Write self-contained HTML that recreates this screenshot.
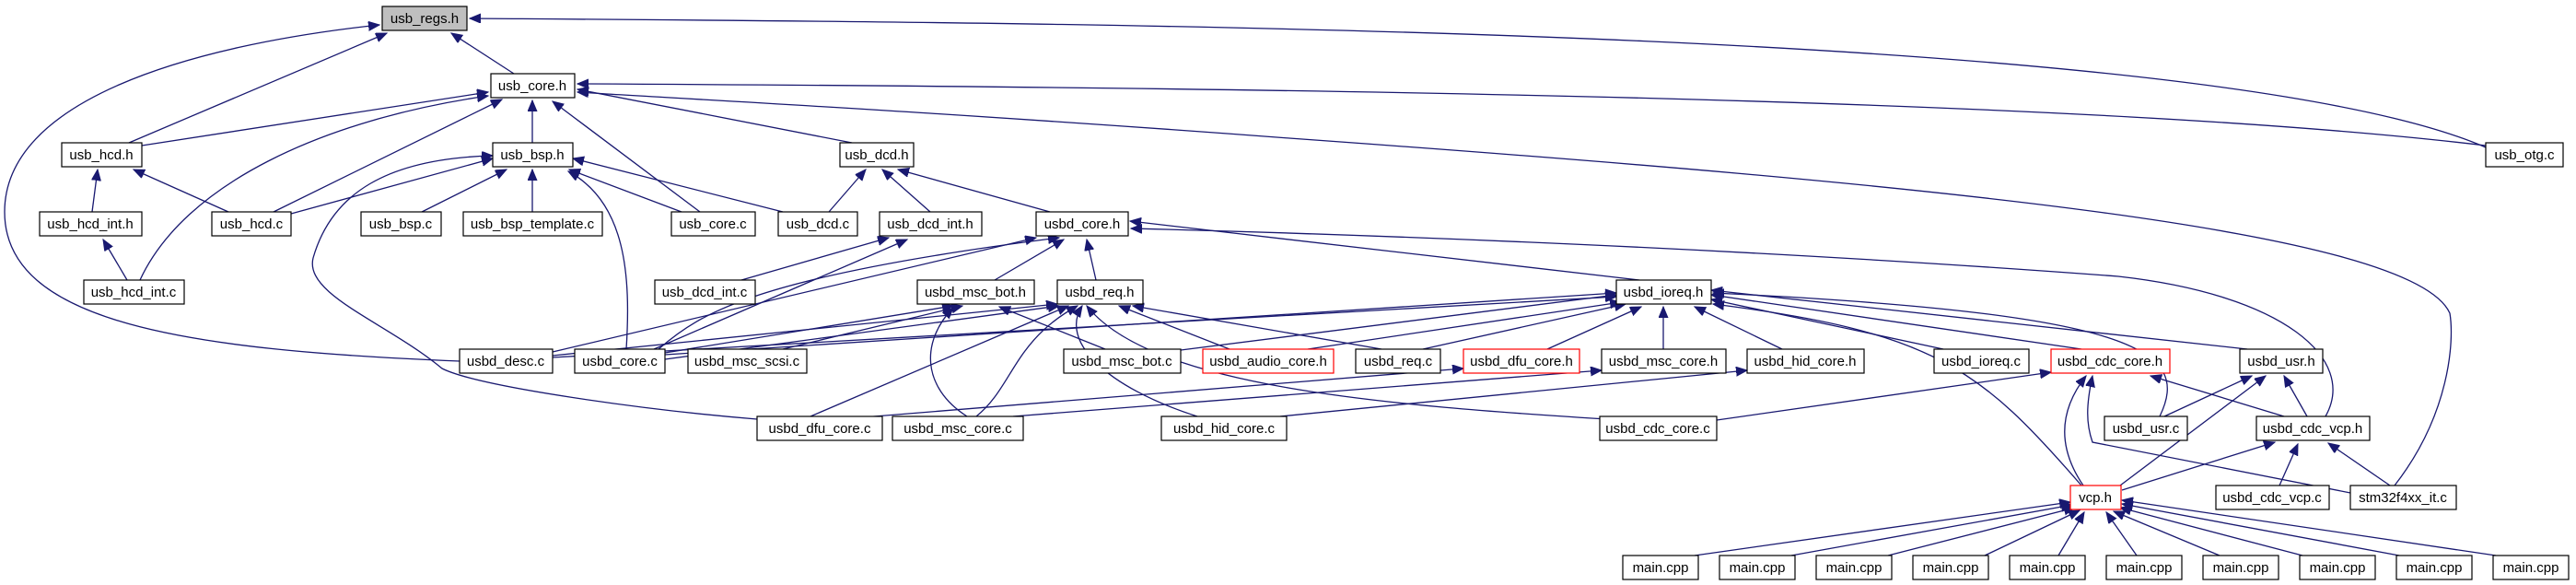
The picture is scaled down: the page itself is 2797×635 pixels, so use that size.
<!DOCTYPE html>
<html><head><meta charset="utf-8"><style>
html,body{margin:0;padding:0;background:#fff;}
svg{display:block}
text{font-family:"Liberation Sans",sans-serif;font-size:15px;fill:#000}
.e{fill:none;stroke:#191970;stroke-width:1.3;marker-end:url(#a)}
.n{fill:#fff;stroke:#000;stroke-width:1.2}
.r{fill:#fff;stroke:#f00;stroke-width:1.2}
</style></head><body>
<svg width="2797" height="635" viewBox="0 0 2797 635" xmlns="http://www.w3.org/2000/svg">
<defs><marker id="a" markerUnits="userSpaceOnUse" markerWidth="14" markerHeight="12" refX="12" refY="5" orient="auto"><path d="M0,0 L12,5 L0,10 z" fill="#191970" stroke="#191970"/></marker></defs>
<g>
<path class="e" d="M558,80 L490,36"/>
<path class="e" d="M140,155 L420,36"/>
<path class="e" d="M499,392 C200,380 5,350 5,230 C5,110 200,50 412,27"/>
<path class="e" d="M2699,160 C2400,30 1200,25 510,20"/>
<path class="e" d="M154,158 L530,100"/>
<path class="e" d="M297,230 L545,108"/>
<path class="e" d="M152,304 C200,200 350,130 530,104"/>
<path class="e" d="M578,155 L578,109"/>
<path class="e" d="M760,230 L600,110"/>
<path class="e" d="M925,155 L627,97"/>
<path class="e" d="M2699,158 C2300,110 1500,95 627,91"/>
<path class="e" d="M2600,527 C2660,450 2665,370 2660,340 C2620,250 2100,200 1400,150 C1000,120 700,105 627,100"/>
<path class="e" d="M100,230 L106,184"/>
<path class="e" d="M248,230 L145,184"/>
<path class="e" d="M138,304 L112,260"/>
<path class="e" d="M316,232 L535,172"/>
<path class="e" d="M458,230 L550,184"/>
<path class="e" d="M578,230 L578,184"/>
<path class="e" d="M740,230 L618,184"/>
<path class="e" d="M850,230 L622,172"/>
<path class="e" d="M822,455 C700,445 520,420 480,400 C420,350 330,320 340,280 C360,210 420,172 535,169"/>
<path class="e" d="M680,379 C685,300 680,220 617,186"/>
<path class="e" d="M900,230 L940,184"/>
<path class="e" d="M1010,230 L958,184"/>
<path class="e" d="M1140,230 L975,184"/>
<path class="e" d="M805,304 L965,258"/>
<path class="e" d="M710,379 L985,260"/>
<path class="e" d="M600,382 L1125,258"/>
<path class="e" d="M715,379 C760,340 820,300 1150,258"/>
<path class="e" d="M1080,304 L1155,260"/>
<path class="e" d="M1190,304 L1180,260"/>
<path class="e" d="M1780,304 L1227,240"/>
<path class="e" d="M2525,452 C2560,390 2480,320 2300,300 C1900,270 1500,255 1228,248"/>
<path class="e" d="M722,383 L1035,332"/>
<path class="e" d="M850,379 L1045,332"/>
<path class="e" d="M1200,379 L1085,333"/>
<path class="e" d="M1050,452 C1000,420 1000,370 1035,334"/>
<path class="e" d="M600,386 L1148,330"/>
<path class="e" d="M722,390 L1150,332"/>
<path class="e" d="M1500,379 L1230,332"/>
<path class="e" d="M1335,379 L1215,332"/>
<path class="e" d="M880,452 L1160,332"/>
<path class="e" d="M1060,452 C1100,420 1100,370 1170,332"/>
<path class="e" d="M1300,452 C1200,420 1150,370 1175,332"/>
<path class="e" d="M1760,456 C1500,440 1250,420 1180,332"/>
<path class="e" d="M600,388 L1755,322"/>
<path class="e" d="M722,385 L1755,318"/>
<path class="e" d="M1282,380 L1755,320"/>
<path class="e" d="M1420,379 L1760,328"/>
<path class="e" d="M1545,379 L1765,330"/>
<path class="e" d="M1680,379 L1782,333"/>
<path class="e" d="M1806,379 L1806,333"/>
<path class="e" d="M1935,379 L1840,333"/>
<path class="e" d="M2110,379 L1858,325"/>
<path class="e" d="M2260,379 L1858,320"/>
<path class="e" d="M2440,379 L1858,315"/>
<path class="e" d="M2345,452 C2380,380 2320,340 1860,318"/>
<path class="e" d="M2260,527 C2150,400 2100,360 1860,330"/>
<path class="e" d="M900,456 L1589,400"/>
<path class="e" d="M1100,452 L1739,402"/>
<path class="e" d="M1390,452 L1897,402"/>
<path class="e" d="M1864,456 L2227,404"/>
<path class="e" d="M2262,527 C2230,480 2240,440 2265,408"/>
<path class="e" d="M2552,535 L2272,480 C2265,460 2265,440 2272,408"/>
<path class="e" d="M2480,452 L2335,408"/>
<path class="e" d="M2350,452 L2445,408"/>
<path class="e" d="M2302,527 L2460,408"/>
<path class="e" d="M2505,452 L2480,408"/>
<path class="e" d="M2304,532 L2470,480"/>
<path class="e" d="M2475,527 L2495,482"/>
<path class="e" d="M2595,527 L2528,481"/>
<path class="e" d="M1840,603 L2248,545"/>
<path class="e" d="M1945,603 L2250,548"/>
<path class="e" d="M2050,603 L2253,551"/>
<path class="e" d="M2155,603 L2258,554"/>
<path class="e" d="M2235,603 L2263,556"/>
<path class="e" d="M2320,603 L2287,556"/>
<path class="e" d="M2410,603 L2295,555"/>
<path class="e" d="M2500,603 L2302,551"/>
<path class="e" d="M2605,603 L2304,547"/>
<path class="e" d="M2710,603 L2304,543"/>
</g>
<g>
<rect x="415" y="7" width="92" height="26" fill="#bfbfbf" stroke="#000" stroke-width="1.2"/><text x="461" y="25" text-anchor="middle">usb_regs.h</text>
<rect class="n" x="533" y="80" width="91" height="26"/><text x="578" y="98" text-anchor="middle">usb_core.h</text>
<rect class="n" x="67" y="155" width="87" height="26"/><text x="110" y="173" text-anchor="middle">usb_hcd.h</text>
<rect class="n" x="535" y="155" width="87" height="26"/><text x="578" y="173" text-anchor="middle">usb_bsp.h</text>
<rect class="n" x="912" y="155" width="80" height="26"/><text x="952" y="173" text-anchor="middle">usb_dcd.h</text>
<rect class="n" x="2699" y="155" width="84" height="26"/><text x="2741" y="173" text-anchor="middle">usb_otg.c</text>
<rect class="n" x="43" y="230" width="111" height="26"/><text x="98" y="248" text-anchor="middle">usb_hcd_int.h</text>
<rect class="n" x="230" y="230" width="86" height="26"/><text x="273" y="248" text-anchor="middle">usb_hcd.c</text>
<rect class="n" x="392" y="230" width="87" height="26"/><text x="435" y="248" text-anchor="middle">usb_bsp.c</text>
<rect class="n" x="503" y="230" width="151" height="26"/><text x="578" y="248" text-anchor="middle">usb_bsp_template.c</text>
<rect class="n" x="729" y="230" width="91" height="26"/><text x="774" y="248" text-anchor="middle">usb_core.c</text>
<rect class="n" x="845" y="230" width="86" height="26"/><text x="888" y="248" text-anchor="middle">usb_dcd.c</text>
<rect class="n" x="955" y="230" width="111" height="26"/><text x="1010" y="248" text-anchor="middle">usb_dcd_int.h</text>
<rect class="n" x="1125" y="230" width="100" height="26"/><text x="1175" y="248" text-anchor="middle">usbd_core.h</text>
<rect class="n" x="91" y="304" width="109" height="26"/><text x="145" y="322" text-anchor="middle">usb_hcd_int.c</text>
<rect class="n" x="711" y="304" width="109" height="26"/><text x="765" y="322" text-anchor="middle">usb_dcd_int.c</text>
<rect class="n" x="996" y="304" width="127" height="26"/><text x="1059" y="322" text-anchor="middle">usbd_msc_bot.h</text>
<rect class="n" x="1148" y="304" width="93" height="26"/><text x="1194" y="322" text-anchor="middle">usbd_req.h</text>
<rect class="n" x="1755" y="304" width="103" height="26"/><text x="1806" y="322" text-anchor="middle">usbd_ioreq.h</text>
<rect class="n" x="499" y="379" width="101" height="26"/><text x="549" y="397" text-anchor="middle">usbd_desc.c</text>
<rect class="n" x="624" y="379" width="98" height="26"/><text x="673" y="397" text-anchor="middle">usbd_core.c</text>
<rect class="n" x="747" y="379" width="129" height="26"/><text x="811" y="397" text-anchor="middle">usbd_msc_scsi.c</text>
<rect class="n" x="1155" y="379" width="127" height="26"/><text x="1218" y="397" text-anchor="middle">usbd_msc_bot.c</text>
<rect class="r" x="1306" y="379" width="142" height="26"/><text x="1377" y="397" text-anchor="middle">usbd_audio_core.h</text>
<rect class="n" x="1472" y="379" width="92" height="26"/><text x="1518" y="397" text-anchor="middle">usbd_req.c</text>
<rect class="r" x="1589" y="379" width="126" height="26"/><text x="1652" y="397" text-anchor="middle">usbd_dfu_core.h</text>
<rect class="n" x="1739" y="379" width="135" height="26"/><text x="1806" y="397" text-anchor="middle">usbd_msc_core.h</text>
<rect class="n" x="1897" y="379" width="127" height="26"/><text x="1960" y="397" text-anchor="middle">usbd_hid_core.h</text>
<rect class="n" x="2100" y="379" width="103" height="26"/><text x="2151" y="397" text-anchor="middle">usbd_ioreq.c</text>
<rect class="r" x="2227" y="379" width="129" height="26"/><text x="2291" y="397" text-anchor="middle">usbd_cdc_core.h</text>
<rect class="n" x="2432" y="379" width="90" height="26"/><text x="2477" y="397" text-anchor="middle">usbd_usr.h</text>
<rect class="n" x="822" y="452" width="136" height="26"/><text x="890" y="470" text-anchor="middle">usbd_dfu_core.c</text>
<rect class="n" x="969" y="452" width="142" height="26"/><text x="1040" y="470" text-anchor="middle">usbd_msc_core.c</text>
<rect class="n" x="1261" y="452" width="136" height="26"/><text x="1329" y="470" text-anchor="middle">usbd_hid_core.c</text>
<rect class="n" x="1737" y="452" width="127" height="26"/><text x="1800" y="470" text-anchor="middle">usbd_cdc_core.c</text>
<rect class="n" x="2285" y="452" width="90" height="26"/><text x="2330" y="470" text-anchor="middle">usbd_usr.c</text>
<rect class="n" x="2450" y="452" width="123" height="26"/><text x="2511" y="470" text-anchor="middle">usbd_cdc_vcp.h</text>
<rect class="r" x="2248" y="527" width="55" height="26"/><text x="2275" y="545" text-anchor="middle">vcp.h</text>
<rect class="n" x="2406" y="527" width="123" height="26"/><text x="2467" y="545" text-anchor="middle">usbd_cdc_vcp.c</text>
<rect class="n" x="2552" y="527" width="115" height="26"/><text x="2609" y="545" text-anchor="middle">stm32f4xx_it.c</text>
<rect class="n" x="1762" y="603" width="82" height="26"/><text x="1803" y="621" text-anchor="middle">main.cpp</text>
<rect class="n" x="1867" y="603" width="82" height="26"/><text x="1908" y="621" text-anchor="middle">main.cpp</text>
<rect class="n" x="1972" y="603" width="82" height="26"/><text x="2013" y="621" text-anchor="middle">main.cpp</text>
<rect class="n" x="2077" y="603" width="82" height="26"/><text x="2118" y="621" text-anchor="middle">main.cpp</text>
<rect class="n" x="2182" y="603" width="82" height="26"/><text x="2223" y="621" text-anchor="middle">main.cpp</text>
<rect class="n" x="2287" y="603" width="82" height="26"/><text x="2328" y="621" text-anchor="middle">main.cpp</text>
<rect class="n" x="2392" y="603" width="82" height="26"/><text x="2433" y="621" text-anchor="middle">main.cpp</text>
<rect class="n" x="2497" y="603" width="82" height="26"/><text x="2538" y="621" text-anchor="middle">main.cpp</text>
<rect class="n" x="2602" y="603" width="82" height="26"/><text x="2643" y="621" text-anchor="middle">main.cpp</text>
<rect class="n" x="2707" y="603" width="82" height="26"/><text x="2748" y="621" text-anchor="middle">main.cpp</text>
</g>
</svg>
</body></html>
